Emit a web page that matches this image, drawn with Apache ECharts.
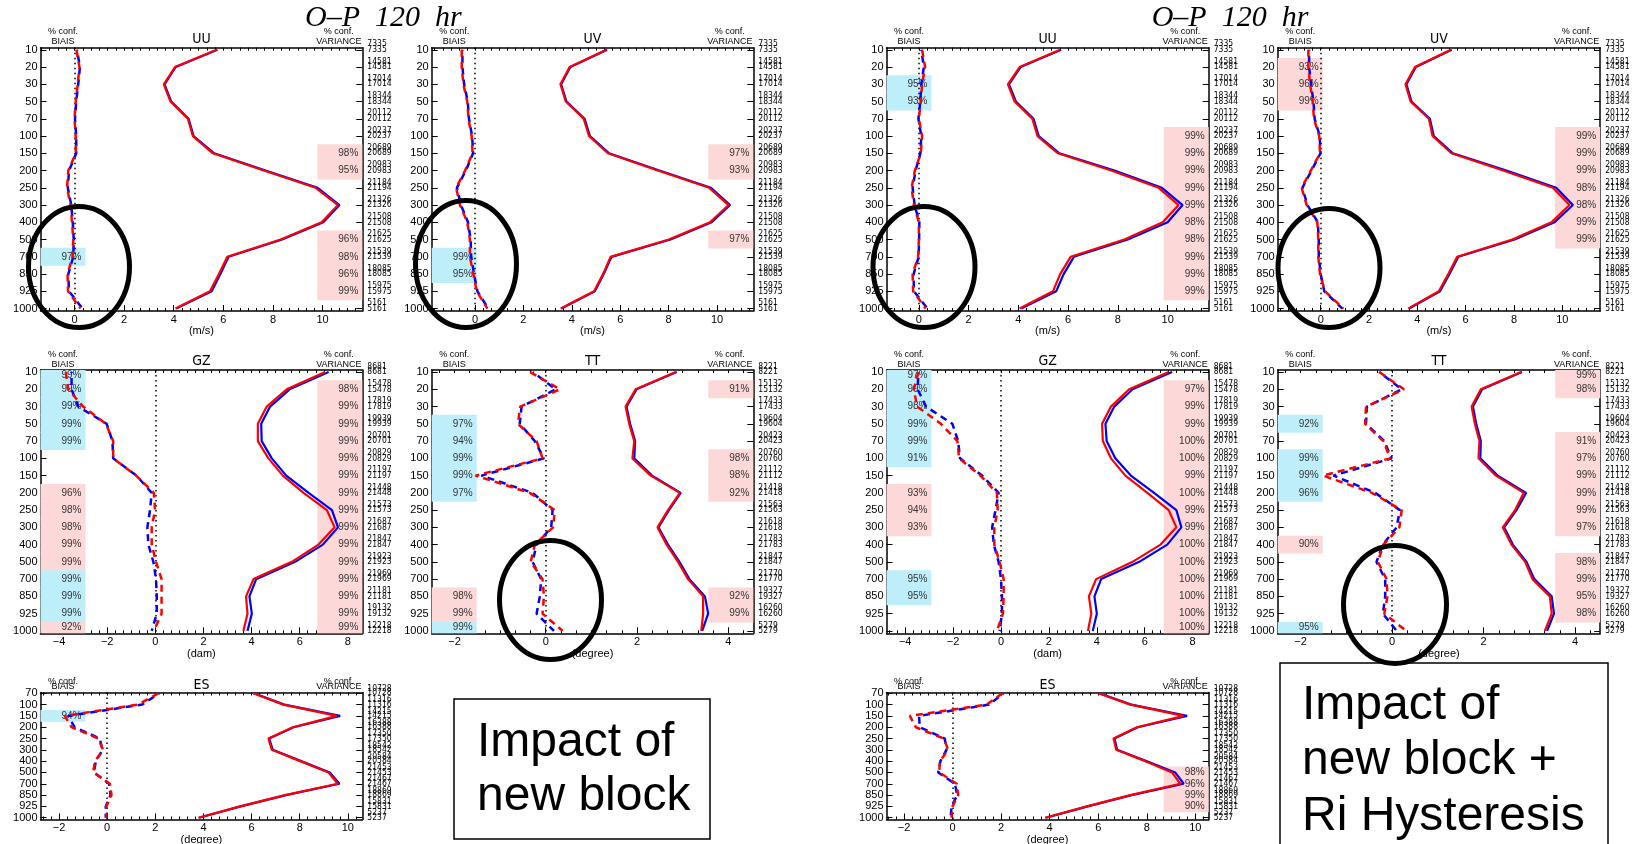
<!DOCTYPE html>
<html><head><meta charset="utf-8">
<script src="https://cdn.jsdelivr.net/npm/echarts@6/dist/echarts.min.js"></script>
<style>html,body{margin:0;padding:0;background:#fff}#c{width:1633px;height:844px}</style>
</head><body><div id="c"></div>
<script>
// ---------- categories / tick labels ----------
const levels16 = ['10','20','30','50','70','100','150','200','250','300','400','500','700','850','925','1000'];
const levelsES = ['70','100','150','200','250','300','400','500','700','850','925','1000'];
const ticksWind = [0,2,4,6,8,10];
const ticksGZ = [-4,-2,0,2,4,6,8];
const ticksTT = [-2,0,2,4];
const ticksES = [-2,0,2,4,6,8,10];

// ---------- observation counts (two lines per level) ----------
const countsWindA = [7335,14581,17014,18344,20112,20237,20689,20983,21184,21326,21508,21625,21539,18085,15975,5161];
const countsWindB = [7335,14581,17014,18344,20112,20237,20689,20983,21194,21326,21508,21625,21539,18085,15975,5161];
const countsGZ = [8681,15478,17819,19939,20701,20829,21197,21448,21573,21687,21847,21923,21969,21181,19132,12218];
const countsTT = [8221,15132,17433,19604,20423,20760,21112,21418,21563,21618,21783,21847,21770,19327,16260,5279];
const countsES = [10728,11316,14215,16388,17350,18542,20584,21453,21467,18869,15831,5237];

// ---------- left group: impact of new block ----------
const uuL_varRed  = [5.73,4.05,3.60,3.87,4.57,4.77,5.58,7.63,9.72,10.62,9.96,8.31,6.16,5.82,5.46,4.07];
const uuL_varBlue = [5.76,4.08,3.63,3.90,4.60,4.80,5.63,7.70,9.80,10.68,10.03,8.37,6.21,5.88,5.53,4.10];
const uuL_biasRed  = [0.08,0.20,0.13,0.05,0.00,0.05,0.05,-0.25,-0.30,-0.16,-0.10,-0.05,-0.08,-0.28,-0.26,0.24];
const uuL_biasBlue = [0.10,0.22,0.15,0.07,0.02,0.07,0.07,-0.22,-0.27,-0.13,-0.07,-0.03,-0.05,-0.25,-0.22,0.32];
const uuL_biasConf = [['700','97%','b']];
const uuL_varConf  = [['150','98%','p'],['200','95%','p'],['500','96%','p'],['700','98%','p'],['850','96%','p'],['925','99%','p']];

const uvL_varRed  = [5.43,3.91,3.53,3.75,4.49,4.71,5.49,7.55,9.68,10.48,9.71,8.01,5.60,5.29,4.92,3.54];
const uvL_varBlue = [5.46,3.94,3.56,3.78,4.53,4.75,5.54,7.62,9.75,10.54,9.78,8.08,5.64,5.32,4.95,3.57];
const uvL_biasRed  = [-0.55,-0.55,-0.48,-0.32,-0.27,-0.14,-0.10,-0.41,-0.78,-0.62,-0.32,-0.21,-0.21,-0.07,0.07,0.51];
const uvL_biasBlue = [-0.52,-0.52,-0.45,-0.30,-0.25,-0.12,-0.08,-0.38,-0.75,-0.58,-0.29,-0.18,-0.16,-0.04,0.10,0.55];
const uvL_biasConf = [['700','99%','b'],['850','95%','b']];
const uvL_varConf  = [['150','97%','p'],['200','93%','p'],['500','97%','p']];

const gzL_varRed  = [7.06,5.46,4.63,4.26,4.26,4.70,5.30,6.16,7.13,7.45,6.78,5.67,4.08,3.77,3.83,3.66];
const gzL_varBlue = [7.20,5.58,4.77,4.40,4.42,4.84,5.44,6.37,7.34,7.59,6.96,5.81,4.19,3.91,4.01,3.83];
const gzL_biasRed  = [-3.72,-3.62,-3.00,-2.05,-1.75,-1.75,-0.80,-0.06,-0.01,-0.15,-0.15,0.03,0.26,0.26,0.26,-0.06];
const gzL_biasBlue = [-3.48,-3.48,-3.20,-2.02,-1.78,-1.75,-0.78,-0.15,-0.22,-0.33,-0.29,-0.08,0.03,0.06,0.06,-0.15];
const gzL_biasConf = [['10','99%','b'],['20','99%','b'],['30','99%','b'],['50','99%','b'],['70','99%','b'],['200','96%','p'],['250','98%','p'],['300','98%','p'],['400','99%','p'],['500','99%','p'],['700','99%','b'],['850','99%','b'],['925','99%','b'],['1000','92%','p']];
const gzL_varConf  = [['20','98%','p'],['30','99%','p'],['50','99%','p'],['70','99%','p'],['100','99%','p'],['150','99%','p'],['200','99%','p'],['250','99%','p'],['300','99%','p'],['400','99%','p'],['500','99%','p'],['700','99%','p'],['850','99%','p'],['925','99%','p'],['1000','99%','p']];

const ttL_varRed  = [2.85,1.97,1.75,1.83,1.94,1.90,2.30,2.94,2.68,2.45,2.65,2.90,3.12,3.45,3.45,3.41];
const ttL_varBlue = [2.87,1.99,1.77,1.85,1.96,1.94,2.33,2.96,2.70,2.47,2.68,2.93,3.15,3.49,3.56,3.43];
const ttL_biasRed  = [-0.34,0.31,-0.56,-0.61,-0.20,-0.07,-1.54,-0.35,0.20,0.16,-0.24,-0.33,-0.07,-0.04,-0.07,0.37];
const ttL_biasBlue = [-0.28,0.22,-0.53,-0.57,-0.24,-0.04,-1.41,-0.29,0.15,0.12,-0.20,-0.29,-0.10,-0.13,-0.20,0.18];
const ttL_biasConf = [['50','97%','b'],['70','94%','b'],['100','99%','b'],['150','99%','b'],['200','97%','b'],['850','98%','p'],['925','99%','p'],['1000','99%','b']];
const ttL_varConf  = [['20','91%','p'],['100','98%','p'],['150','98%','p'],['200','92%','p'],['850','92%','p'],['925','99%','p']];

const esL_varRed  = [6.07,7.32,9.54,7.71,6.70,6.84,8.02,9.20,9.58,7.39,5.52,3.79];
const esL_varBlue = [6.10,7.36,9.68,7.75,6.73,6.88,8.06,9.25,9.65,7.43,5.55,3.82];
const esL_biasRed  = [2.12,1.29,-1.76,-1.48,-0.37,-0.17,-0.51,-0.58,0.11,0.18,-0.03,-0.03];
const esL_biasBlue = [2.16,1.45,-1.62,-1.35,-0.31,-0.19,-0.47,-0.55,0.08,0.14,-0.06,-0.06];
const esL_biasConf = [['150','94%','b']];
const esL_varConf  = [];

// ---------- right group: new block + Ri hysteresis ----------
const uuR_varRed  = [5.68,4.05,3.58,3.85,4.56,4.77,5.59,7.73,9.64,10.44,9.80,8.26,6.10,5.68,5.39,4.05];
const uuR_varBlue = [5.72,4.09,3.62,3.90,4.61,4.82,5.65,7.86,9.77,10.60,10.00,8.40,6.23,5.82,5.52,4.12];
const uuR_biasRed  = [0.13,0.25,0.13,0.08,0.00,0.13,0.08,-0.16,-0.29,-0.20,0.00,0.00,-0.03,-0.25,-0.23,0.28];
const uuR_biasBlue = [0.10,0.20,0.10,0.06,-0.02,0.10,0.06,-0.13,-0.25,-0.17,0.02,0.01,-0.01,-0.21,-0.20,0.35];
const uuR_biasConf = [['30','95%','b'],['50','93%','b']];
const uuR_varConf  = [['100','99%','p'],['150','99%','p'],['200','99%','p'],['250','99%','p'],['300','99%','p'],['400','98%','p'],['500','98%','p'],['700','99%','p'],['850','99%','p'],['925','99%','p']];

const uvR_varRed  = [5.39,3.90,3.51,3.72,4.48,4.63,5.41,7.55,9.61,10.30,9.55,7.93,5.65,5.28,4.89,3.62];
const uvR_varBlue = [5.42,3.94,3.55,3.76,4.52,4.68,5.47,7.69,9.75,10.44,9.68,8.03,5.70,5.33,4.94,3.66];
const uvR_biasRed  = [-0.51,-0.51,-0.44,-0.33,-0.28,-0.06,-0.03,-0.41,-0.79,-0.58,-0.14,-0.10,-0.10,-0.03,0.18,0.94];
const uvR_biasBlue = [-0.48,-0.48,-0.40,-0.30,-0.25,-0.04,-0.01,-0.38,-0.76,-0.55,-0.12,-0.08,-0.08,0.00,0.15,0.90];
const uvR_biasConf = [['20','93%','p'],['30','96%','p'],['50','99%','p']];
const uvR_varConf  = [['100','99%','p'],['150','99%','p'],['200','99%','p'],['250','98%','p'],['300','98%','p'],['400','99%','p'],['500','99%','p']];

const gzR_varRed  = [7.00,5.35,4.59,4.22,4.25,4.59,5.19,6.11,7.00,7.32,6.66,5.49,3.97,3.67,3.77,3.63];
const gzR_varBlue = [7.14,5.49,4.73,4.36,4.41,4.77,5.42,6.39,7.32,7.53,6.94,5.77,4.18,3.90,4.00,3.83];
const gzR_biasRed  = [-3.45,-3.64,-3.50,-2.51,-1.82,-1.75,-0.86,-0.17,-0.14,-0.28,-0.28,-0.06,0.11,0.11,0.08,-0.17];
const gzR_biasBlue = [-3.45,-3.48,-3.13,-2.03,-1.79,-1.71,-0.79,-0.10,-0.23,-0.37,-0.30,-0.10,0.00,0.04,0.04,-0.06];
const gzR_biasConf = [['10','97%','b'],['20','99%','b'],['30','98%','b'],['50','99%','b'],['70','99%','b'],['100','91%','b'],['200','93%','p'],['250','94%','p'],['300','93%','p'],['700','95%','b'],['850','95%','b']];
const gzR_varConf  = [['20','97%','p'],['30','99%','p'],['50','99%','p'],['70','100%','p'],['100','100%','p'],['150','99%','p'],['200','100%','p'],['250','99%','p'],['300','99%','p'],['400','100%','p'],['500','100%','p'],['700','100%','p'],['850','100%','p'],['925','100%','p'],['1000','100%','p']];

const ttR_varRed  = [2.82,1.94,1.74,1.81,1.91,1.89,2.27,2.88,2.69,2.42,2.61,2.91,3.07,3.45,3.49,3.34];
const ttR_varBlue = [2.84,1.97,1.77,1.84,1.94,1.93,2.31,2.93,2.72,2.45,2.64,2.94,3.11,3.49,3.54,3.39];
const ttR_biasRed  = [-0.28,0.26,-0.57,-0.59,-0.19,-0.04,-1.51,-0.44,0.21,0.16,-0.19,-0.31,-0.12,-0.10,-0.17,0.31];
const ttR_biasBlue = [-0.28,0.21,-0.55,-0.57,-0.17,-0.01,-1.28,-0.37,0.17,0.10,-0.20,-0.34,-0.15,-0.15,-0.20,0.10];
const ttR_biasConf = [['50','92%','b'],['100','99%','b'],['150','99%','b'],['200','96%','b'],['400','90%','p'],['1000','95%','b']];
const ttR_varConf  = [['10','99%','p'],['20','98%','p'],['70','91%','p'],['100','97%','p'],['150','99%','p'],['200','99%','p'],['250','99%','p'],['300','97%','p'],['500','98%','p'],['700','99%','p'],['850','95%','p'],['925','98%','p']];

const esR_varRed  = [6.01,7.32,9.52,7.59,6.63,6.74,7.94,9.04,9.38,7.32,5.53,3.81];
const esR_varBlue = [6.04,7.36,9.66,7.63,6.67,6.78,7.98,9.17,9.52,7.38,5.57,3.85];
const esR_biasRed  = [2.06,1.40,-1.76,-1.51,-0.36,-0.18,-0.52,-0.55,0.17,0.23,0.00,-0.04];
const esR_biasBlue = [2.09,1.51,-1.38,-1.35,-0.32,-0.25,-0.50,-0.59,0.10,0.19,-0.04,-0.08];
const esR_biasConf = [];
const esR_varConf  = [['500','98%','p'],['700','96%','p'],['850','99%','p'],['925','90%','p']];

// ---------- layout ----------
const cols = [[40.5,321.8],[431.7,321.6],[886.5,322.2],[1277.7,322.5]];
const rows = [[47.7,263.3,-0.12,15.14],[370,263.3,-0.12,15.14],[692.5,127,-0.07,11.16]];
const FONT = "'Liberation Sans', Arial, sans-serif";
const NARROW = "'Liberation Sans Narrow','DejaVu Sans Condensed','Liberation Sans',sans-serif";
const BOXW = 45;
const PINK = '#fcd8d8', CYAN = '#bfeefb';
const RED = '#ff0000', BLUE = '#0000ff';

const panels = [
 {c:0,r:0,t:'UU',u:'(m/s)',lv:levels16,cA:countsWindA,cB:countsWindB,xr:[-1.37,11.6],mj:ticksWind,vr:uuL_varRed,vb:uuL_varBlue,br:uuL_biasRed,bb:uuL_biasBlue,bc:uuL_biasConf,vc:uuL_varConf},
 {c:1,r:0,t:'UV',u:'(m/s)',lv:levels16,cA:countsWindA,cB:countsWindB,xr:[-1.79,11.5],mj:ticksWind,vr:uvL_varRed,vb:uvL_varBlue,br:uvL_biasRed,bb:uvL_biasBlue,bc:uvL_biasConf,vc:uvL_varConf},
 {c:0,r:1,t:'GZ',u:'(dam)',lv:levels16,cA:countsGZ,cB:countsGZ,xr:[-4.77,8.6],mj:ticksGZ,vr:gzL_varRed,vb:gzL_varBlue,br:gzL_biasRed,bb:gzL_biasBlue,bc:gzL_biasConf,vc:gzL_varConf},
 {c:1,r:1,t:'TT',u:'(degree)',lv:levels16,cA:countsTT,cB:countsTT,xr:[-2.5,4.55],mj:ticksTT,vr:ttL_varRed,vb:ttL_varBlue,br:ttL_biasRed,bb:ttL_biasBlue,bc:ttL_biasConf,vc:ttL_varConf},
 {c:0,r:2,t:'ES',u:'(degree)',lv:levelsES,cA:countsES,cB:countsES,xr:[-2.77,10.6],mj:ticksES,vr:esL_varRed,vb:esL_varBlue,br:esL_biasRed,bb:esL_biasBlue,bc:esL_biasConf,vc:esL_varConf},
 {c:2,r:0,t:'UU',u:'(m/s)',lv:levels16,cA:countsWindA,cB:countsWindB,xr:[-1.3,11.65],mj:ticksWind,vr:uuR_varRed,vb:uuR_varBlue,br:uuR_biasRed,bb:uuR_biasBlue,bc:uuR_biasConf,vc:uuR_varConf},
 {c:3,r:0,t:'UV',u:'(m/s)',lv:levels16,cA:countsWindA,cB:countsWindB,xr:[-1.78,11.57],mj:ticksWind,vr:uvR_varRed,vb:uvR_varBlue,br:uvR_biasRed,bb:uvR_biasBlue,bc:uvR_biasConf,vc:uvR_varConf},
 {c:2,r:1,t:'GZ',u:'(dam)',lv:levels16,cA:countsGZ,cB:countsGZ,xr:[-4.78,8.67],mj:ticksGZ,vr:gzR_varRed,vb:gzR_varBlue,br:gzR_biasRed,bb:gzR_biasBlue,bc:gzR_biasConf,vc:gzR_varConf},
 {c:3,r:1,t:'TT',u:'(degree)',lv:levels16,cA:countsTT,cB:countsTT,xr:[-2.5,4.55],mj:ticksTT,vr:ttR_varRed,vb:ttR_varBlue,br:ttR_biasRed,bb:ttR_biasBlue,bc:ttR_biasConf,vc:ttR_varConf},
 {c:2,r:2,t:'ES',u:'(degree)',lv:levelsES,cA:countsES,cB:countsES,xr:[-2.72,10.55],mj:ticksES,vr:esR_varRed,vb:esR_varBlue,br:esR_biasRed,bb:esR_biasBlue,bc:esR_biasConf,vc:esR_varConf}
];

const grids = [], xAxes = [], yAxes = [], series = [], graphics = [];
const frame = {show:true, onZero:false, lineStyle:{color:'#000', width:1.5}};
const txt = (x, y, text, font, align, extra) => graphics.push(Object.assign({type:'text', x:x, y:y, silent:true,
  style:{text:text, font:font, fill:'#000', align:align||'center', verticalAlign:'middle'}}, extra||{}));

panels.forEach((p, k) => {
  const [gl, gw] = cols[p.c];
  const [gt, gh, ymin, ymax] = rows[p.r];
  const [xmin, xmax] = p.xr;
  grids.push({left:gl, top:gt, width:gw, height:gh, containLabel:false, outerBoundsMode:'none'});
  const xi = xAxes.length, yi = yAxes.length;
  const minors = [];
  for (let t = Math.ceil(xmin * 3); t <= Math.floor(xmax * 3); t++) minors.push(t / 3);
  xAxes.push({gridIndex:k, type:'value', position:'bottom', min:xmin, max:xmax, axisLine:frame, splitLine:{show:false},
    axisTick:{show:true, inside:true, length:6, customValues:p.mj, lineStyle:{color:'#000', width:1}},
    axisLabel:{show:true, customValues:p.mj, margin:3, fontSize:11, color:'#000', fontFamily:FONT, showMinLabel:true, showMaxLabel:true,
      formatter: v => (v < 0 ? '\u2212' + (-v) : String(v))},
    name:p.u, nameLocation:'middle', nameGap:12, nameTextStyle:{fontSize:11, color:'#000', fontFamily:FONT, verticalAlign:'top'}});
  xAxes.push({gridIndex:k, type:'value', position:'bottom', min:xmin, max:xmax, axisLine:{show:false, onZero:false}, splitLine:{show:false},
    axisLabel:{show:false}, axisTick:{show:true, inside:true, length:3, customValues:minors, lineStyle:{color:'#000', width:1}}});
  xAxes.push({gridIndex:k, type:'value', position:'top', min:xmin, max:xmax, axisLine:frame, splitLine:{show:false},
    axisLabel:{show:false}, axisTick:{show:true, inside:true, length:3, customValues:minors, lineStyle:{color:'#000', width:1}}});
  const idx = p.lv.map((_, i) => i);
  yAxes.push({gridIndex:k, type:'value', inverse:true, position:'left', min:ymin, max:ymax, axisLine:frame, splitLine:{show:false},
    axisTick:{show:true, inside:true, length:6, customValues:idx, lineStyle:{color:'#000', width:1}},
    axisLabel:{show:true, customValues:idx, margin:3, fontSize:11, color:'#000', fontFamily:FONT, showMinLabel:true, showMaxLabel:true,
      hideOverlap:false, formatter: v => p.lv[Math.round(v)]}});
  const es = p.r === 2;
  // right axis, upper line of counts
  yAxes.push({gridIndex:k, type:'value', inverse:true, position:'right', min:ymin, max:ymax, axisLine:frame, splitLine:{show:false},
    axisTick:{show:true, inside:true, length:6, customValues:idx, lineStyle:{color:'#000', width:1}},
    axisLabel:{show:true, customValues:idx, margin:5, fontSize:8.5, lineHeight:7, verticalAlign:'bottom', color:'#000', fontFamily:NARROW,
      showMinLabel:true, showMaxLabel:true, hideOverlap:false, padding: es ? [0,0,1,0] : [0,0,2,0],
      formatter: v => String(p.cA[Math.round(v)])}});
  // right axis, lower line of counts
  yAxes.push({gridIndex:k, type:'value', inverse:true, position:'right', min:ymin, max:ymax, axisLine:{show:false, onZero:false}, splitLine:{show:false},
    axisTick:{show:false},
    axisLabel:{show:true, customValues:idx, margin:5, fontSize:8.5, lineHeight:7, verticalAlign:'middle', color:'#000', fontFamily:NARROW,
      showMinLabel:true, showMaxLabel:true, hideOverlap:false, padding: es ? [0,0,0,0] : [0,0,1,0],
      formatter: v => String(p.cB[Math.round(v)])}});

  const bw = BOXW / gw * (xmax - xmin);
  const box = (cf, isBias) => {
    const i = p.lv.indexOf(cf[0]);
    const y0 = Math.max(ymin, i - 0.52), y1 = Math.min(ymax, i + 0.52);
    const x0 = isBias ? xmin : xmax - bw, x1 = isBias ? xmin + bw : xmax;
    return [{name:cf[1], xAxis:x0, yAxis:y0, itemStyle:{color: cf[2] === 'b' ? CYAN : PINK}}, {xAxis:x1, yAxis:y1}];
  };
  const areas = p.bc.map(c => box(c, true)).concat(p.vc.map(c => box(c, false)));
  const pts = arr => arr.map((v, i) => [v, i]);
  const base = {type:'line', xAxisIndex:xi, yAxisIndex:yi, symbol:'none', showSymbol:false, silent:true, animation:false, clip:false};
  series.push(Object.assign({}, base, {data:pts(p.vb), z:1, lineStyle:{opacity:0},
    markArea:{silent:true, data:areas, itemStyle:{opacity:1},
      label:{show:true, position:'insideRight', distance:4, color:'#333', fontSize:10, fontFamily:FONT}},
    markLine:{silent:true, symbol:['none','none'], label:{show:false}, animation:false,
      lineStyle:{color:'#000', type:[1.5,3.5], width:1.5}, data:[{xAxis:0}]}}));
  series.push(Object.assign({}, base, {data:pts(p.vb), z:5, lineStyle:{color:BLUE, width:2.2}}));
  series.push(Object.assign({}, base, {data:pts(p.vr), z:6, lineStyle:{color:RED, width:2.2}}));
  series.push(Object.assign({}, base, {data:pts(p.bb), z:7, lineStyle:{color:BLUE, width:2.5, type:[7,5], dashOffset:6}}));
  series.push(Object.assign({}, base, {data:pts(p.br), z:8, lineStyle:{color:RED, width:2.5, type:[7,5]}}));

  // headers
  const top1 = es ? gt - 10.5 : gt - 15.7, top2 = es ? gt - 6 : gt - 5.7;
  txt(gl + gw / 2, es ? gt - 7.5 : gt - 8.4, p.t, "14px " + NARROW);
  txt(gl + BOXW / 2, top1, '% conf.', "9px " + FONT);
  txt(gl + BOXW / 2, top2, 'BIAIS', "9px " + FONT);
  txt(gl + gw - BOXW / 2 - 1, top1, '% conf.', "9px " + FONT);
  txt(gl + gw - BOXW / 2 - 1, top2, 'VARIANCE', "9px " + FONT);
});

// titles
txt(305, 18, 'O\u2013P  120  hr', "italic 30px 'Liberation Serif', 'DejaVu Serif', serif", 'left');
txt(1151.7, 18, 'O\u2013P  120  hr', "italic 30px 'Liberation Serif', 'DejaVu Serif', serif", 'left');

// highlight ellipses
const ell = [[79,267,50.5,60.5],[466,264,50.5,63.5],[924,267,51,60.5],[1329,268,51,59.5],[550.5,600,51,59.5],[1395,604.5,51.5,59]];
ell.forEach(e => graphics.push({type:'ellipse', silent:true, z:100, shape:{cx:e[0], cy:e[1], rx:e[2], ry:e[3]},
  style:{fill:null, stroke:'#000', lineWidth:5}}));

// annotation boxes
graphics.push({type:'rect', silent:true, z:90, shape:{x:454, y:699, width:256, height:140}, style:{fill:'#fff', stroke:'#000', lineWidth:1.5}});
graphics.push({type:'rect', silent:true, z:90, shape:{x:1280, y:663, width:328, height:200}, style:{fill:'#fff', stroke:'#000', lineWidth:1.5}});
const big = "48px 'Liberation Sans', Arial, sans-serif";
[['Impact of',477,742.4],['new block',477,796.4],['Impact of',1302,705.4],['new block +',1302,760.4],['Ri Hysteresis',1302,816.4]]
  .forEach(l => txt(l[1], l[2], l[0], big, 'left', {z:95}));

const chart = echarts.init(document.getElementById('c'), null, {renderer:'canvas'});
chart.setOption({
  animation:false,
  backgroundColor:'#fff',
  textStyle:{fontFamily:FONT},
  grid:grids, xAxis:xAxes, yAxis:yAxes, series:series, graphic:graphics
});
</script></body></html>
